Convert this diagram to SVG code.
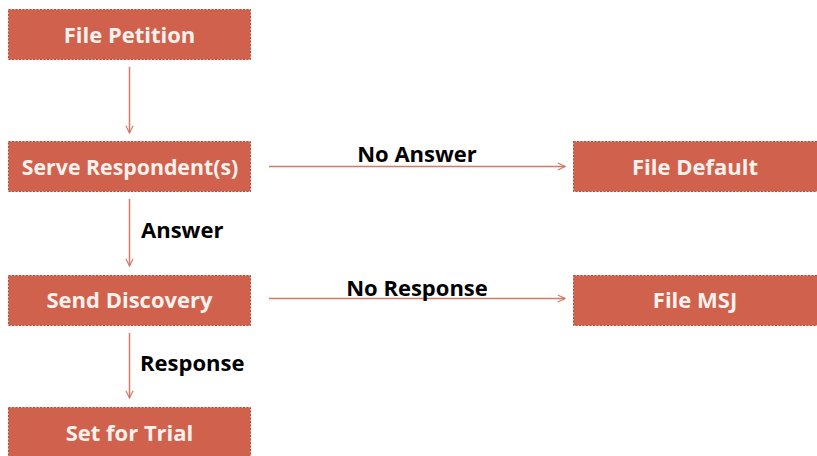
<svg xmlns="http://www.w3.org/2000/svg" width="817" height="456" viewBox="0 0 817 456">
<defs>
<style>
.box{fill:#D0624D;stroke:#A9503F;stroke-width:1;stroke-dasharray:2 1.5}
.bt{font-family:"Open Sans","Liberation Sans",sans-serif;font-weight:bold;font-size:22px;fill:#FCF1EC;text-anchor:middle}
.lb{font-family:"Open Sans","Liberation Sans",sans-serif;font-weight:bold;font-size:22px;fill:#000}
.cn{stroke:#D27A68;stroke-width:1.5;fill:none}
</style>
<marker id="ah" viewBox="0 0 10 10" refX="9" refY="5" markerWidth="9" markerHeight="9" markerUnits="userSpaceOnUse" orient="auto">
<path d="M1,1 L9,5 L1,9" fill="none" stroke="#D27A68" stroke-width="1.3"/>
</marker>
</defs>
<rect width="817" height="456" fill="#fff"/>
<g id="file-petition"><rect class="box" x="8.5" y="9.5" width="242" height="50"/><text class="bt" x="129.5" y="43">File Petition</text></g>
<g id="serve-respondents"><rect class="box" x="8.5" y="141.5" width="242" height="50"/><text class="bt" x="130" y="175" style="font-size:21.3px">Serve Respondent(s)</text></g>
<g id="file-default"><rect class="box" x="573.5" y="141.5" width="250" height="50"/><text class="bt" x="695" y="175">File Default</text></g>
<g id="send-discovery"><rect class="box" x="8.5" y="275.5" width="242" height="50"/><text class="bt" x="129.5" y="308">Send Discovery</text></g>
<g id="file-msj"><rect class="box" x="573.5" y="275.5" width="250" height="50"/><text class="bt" x="695" y="308">File MSJ</text></g>
<g id="set-for-trial"><rect class="box" x="8.5" y="407.5" width="242" height="55"/><text class="bt" x="129.5" y="441">Set for Trial</text></g>
<g id="connectors">
<line class="cn" x1="129.5" y1="67" x2="129.5" y2="133" marker-end="url(#ah)"/>
<line class="cn" x1="129.5" y1="199" x2="129.5" y2="266" marker-end="url(#ah)"/>
<line class="cn" x1="129.5" y1="333" x2="129.5" y2="398" marker-end="url(#ah)"/>
<line class="cn" x1="269" y1="166.5" x2="565" y2="166.5" marker-end="url(#ah)"/>
<line class="cn" x1="269" y1="298.5" x2="565" y2="298.5" marker-end="url(#ah)"/>
<text class="lb" x="417" y="162" text-anchor="middle">No Answer</text>
<text class="lb" x="417" y="296" text-anchor="middle">No Response</text>
<text class="lb" x="141" y="238">Answer</text>
<text class="lb" x="140" y="371">Response</text>
</g>
</svg>
